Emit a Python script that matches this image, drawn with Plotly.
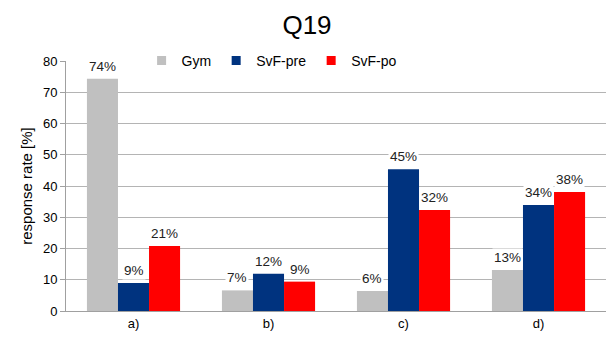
import plotly.graph_objects as go

categories = ["a)", "b)", "c)", "d)"]
series_names = ["Gym", "SvF-pre", "SvF-po"]
gym = [74.3, 6.6, 6.4, 13.1]
svf_pre = [9.0, 11.9, 45.4, 33.9]
svf_po = [20.8, 9.4, 32.3, 38.1]
colors = ["#c0c0c0", "#00337f", "#ff0000"]
y_ticks = [0, 10, 20, 30, 40, 50, 60, 70, 80]

W, H = 614, 339
margin = dict(l=66, r=8, t=61, b=28)
bargap = 0.31
FONT = "Liberation Sans, Arial"

fig = go.Figure()
all_series = [gym, svf_pre, svf_po]
for name, vals, col in zip(series_names, all_series, colors):
    fig.add_trace(go.Bar(x=categories, y=vals, name=name, showlegend=False,
                         marker=dict(color=col, line=dict(width=0))))
# small square legend keys
for name, col in zip(series_names, colors):
    fig.add_trace(go.Scatter(x=[None], y=[None], mode="markers", name=name,
                             marker=dict(symbol="square", size=9, color=col)))

# value labels on white boxes above each bar
plot_w = W - margin["l"] - margin["r"]
bar_px = plot_w / len(categories) * (1 - bargap) / len(all_series)
for i, vals in enumerate(all_series):
    shift = (i - (len(all_series) - 1) / 2) * bar_px
    for cat, v in zip(categories, vals):
        fig.add_annotation(x=cat, y=v, text=f"{round(v)}%", showarrow=False,
                           xshift=shift, yshift=3, yanchor="bottom",
                           bgcolor="white", borderpad=1,
                           font=dict(size=13.5, color="#222222", family=FONT))

fig.update_layout(
    width=W, height=H, margin=margin,
    paper_bgcolor="white", plot_bgcolor="white",
    barmode="group", bargap=bargap, bargroupgap=0,
    font=dict(family=FONT, color="black", size=13),
    title=dict(text="Q19", x=0.5, xanchor="center", y=0.9, yanchor="bottom",
               font=dict(size=26, color="black")),
    legend=dict(orientation="h", x=0.14, xanchor="left", y=1, yanchor="middle",
                bgcolor="white", itemwidth=30, font=dict(size=14),
                traceorder="normal", tracegroupgap=0),
    showlegend=True,
)
fig.update_yaxes(range=[0, 80], tickvals=y_ticks, showgrid=True,
                 gridcolor="#b4b4b4", gridwidth=1, showline=True,
                 linecolor="#a0a0a0", linewidth=1, ticks="outside",
                 ticklen=5, tickcolor="#a0a0a0", zeroline=False,
                 tickfont=dict(size=13),
                 title=dict(text="response rate [%]", font=dict(size=15),
                            standoff=6))
fig.update_xaxes(showline=True, linecolor="#a0a0a0", linewidth=1,
                 ticks="", tickfont=dict(size=13))

fig.write_html("out.html")
